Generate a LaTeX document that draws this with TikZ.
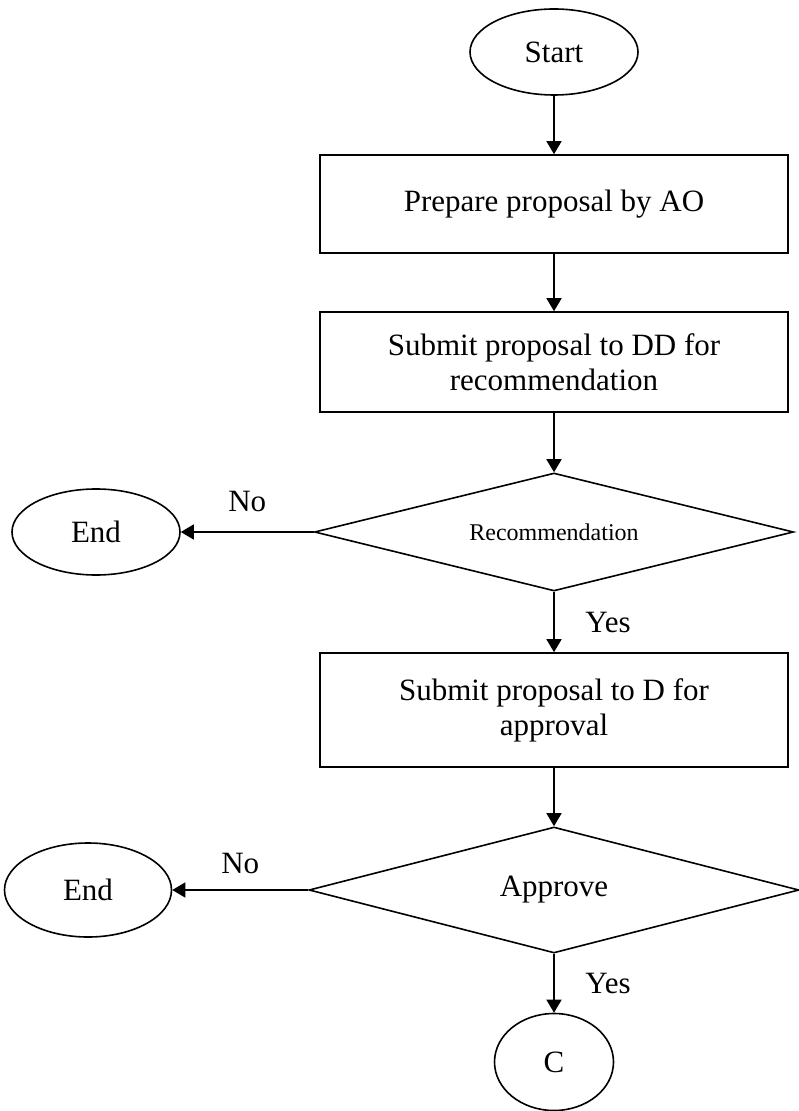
\documentclass[tikz,border=0pt]{standalone}
\usepackage{fontspec}
\setmainfont{Liberation Serif}
\usetikzlibrary{arrows.meta,shapes.geometric}

\tikzset{
    terminal/.style={ellipse, draw, line width=0.8pt, inner sep=1pt},
    process/.style={rectangle, draw, line width=0.8pt, minimum width=234pt, align=center},
    decision/.style={diamond, draw, line width=0.8pt, aspect=4, inner sep=0pt},
}

\begin{document}
\begin{tikzpicture}[>={Triangle[length=6.5pt,width=7.5pt]}, line width=0.8pt,
                    font=\fontsize{15.5pt}{17.5pt}\selectfont]
    \useasboundingbox (0,0) rectangle (399pt,-555.5pt);
    \node[terminal, minimum width=84pt, minimum height=43pt]  (start) at (277pt,-26pt) {Start};
    \node[process, minimum height=49pt]  (prepare)  [below of=start, node distance=76pt]    {Prepare proposal by AO};
    \node[process, minimum height=50pt]  (submitDD) [below of=prepare, node distance=79pt]  {Submit proposal to DD for\\recommendation};
    \node[decision, minimum width=239.5pt, minimum height=59pt] (recommend) [below of=submitDD, node distance=85pt]
        {\fontsize{12pt}{14pt}\selectfont Recommendation};
    \node[terminal, minimum width=84pt, minimum height=43pt]  (endA) [left of=recommend, node distance=229pt] {End};
    \node[process, minimum height=57pt]  (submitD)  [below of=recommend, node distance=89pt] {Submit proposal to D for\\approval};
    \node[decision, minimum width=245pt, minimum height=63pt] (approve) [below of=submitD, node distance=90pt] {Approve};
    \node[terminal, minimum width=83.5pt, minimum height=47pt] (endB) [left of=approve, node distance=233pt] {End};
    \node[terminal, minimum width=59.5pt, minimum height=48.5pt] (connC) [below of=approve, node distance=86pt] {C};
    \path[->]   (start)     edge (prepare)
                (prepare)   edge (submitDD)
                (submitDD)  edge (recommend)
                (recommend) edge node[above=6.5pt] {No} (endA)
                (recommend) edge node[right=12pt] {Yes} (submitD)
                (submitD)   edge (approve)
                (approve)   edge node[above=4.5pt] {No} (endB)
                (approve)   edge node[right=12pt] {Yes} (connC)
                ;
\end{tikzpicture}
\end{document}
